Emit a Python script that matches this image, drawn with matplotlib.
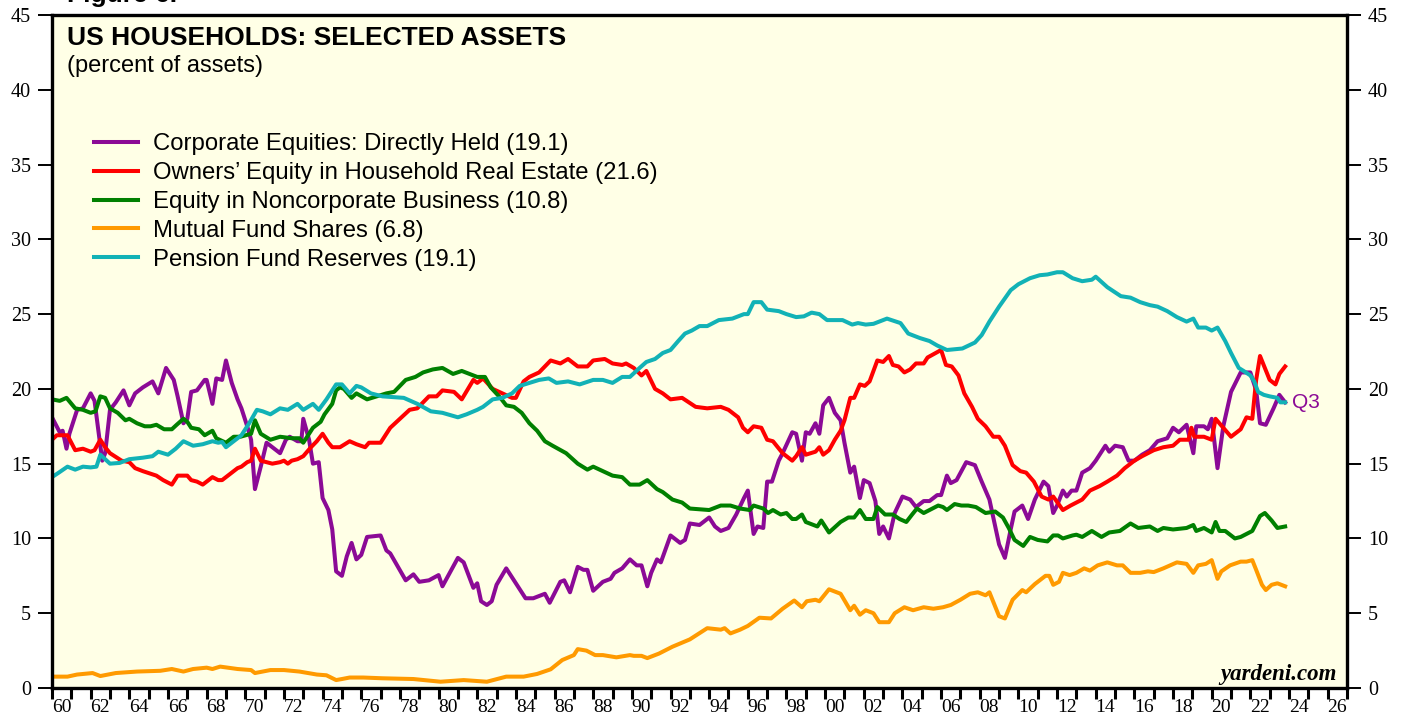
import numpy as np
import matplotlib
matplotlib.use("Agg")
import matplotlib.pyplot as plt


#####################
### Data (percent of household assets)
#####################
title = "US HOUSEHOLDS: SELECTED ASSETS"
subtitle = "(percent of assets)"

names = ["Corporate Equities: Directly Held (19.1)",
         "Owners\u2019 Equity in Household Real Estate (21.6)",
         "Equity in Noncorporate Business (10.8)",
         "Mutual Fund Shares (6.8)",
         "Pension Fund Reserves (19.1)"]

x_equities = [1960.0, 1960.4, 1960.55, 1960.75, 1960.9, 1961.3, 1961.6, 1962.0, 1962.2, 1962.6,
              1962.75, 1963.0, 1963.3, 1963.7, 1964.0, 1964.3, 1964.7, 1965.2, 1965.5, 1965.9,
              1966.3, 1966.5, 1966.8, 1967.0, 1967.2, 1967.5, 1967.9, 1968.0, 1968.3, 1968.5,
              1968.8, 1969.0, 1969.3, 1969.6, 1969.8, 1970.1, 1970.3, 1970.5, 1970.8, 1971.1,
              1971.4, 1971.8, 1972.1, 1972.3, 1972.7, 1972.9, 1973.0, 1973.3, 1973.5, 1973.8,
              1974.0, 1974.3, 1974.5, 1974.7, 1975.0, 1975.25, 1975.5, 1975.75, 1976.0, 1976.3,
              1977.0, 1977.3, 1977.5, 1978.3, 1978.7, 1979.0, 1979.5, 1980.0, 1980.2, 1981.0,
              1981.3, 1981.8, 1982.0, 1982.2, 1982.5, 1982.75, 1983.0, 1983.5, 1983.9, 1984.5,
              1984.9, 1985.2, 1985.5, 1985.75, 1986.3, 1986.5, 1986.8, 1987.2, 1987.5, 1987.7,
              1988.0, 1988.5, 1988.9, 1989.1, 1989.5, 1989.9, 1990.25, 1990.5, 1990.8, 1991.0,
              1991.3, 1991.5, 1992.0, 1992.5, 1992.75, 1993.0, 1993.5, 1994.0, 1994.3, 1994.6,
              1995.0, 1995.4, 1995.8, 1996.0, 1996.3, 1996.5, 1996.8, 1997.0, 1997.25, 1997.6,
              1997.8, 1998.3, 1998.5, 1998.8, 1999.0, 1999.2, 1999.5, 1999.7, 1999.9, 2000.2,
              2000.5, 2000.8, 2001.0, 2001.3, 2001.5, 2001.8, 2002.0, 2002.3, 2002.6, 2002.8,
              2003.0, 2003.3, 2003.6, 2004.0, 2004.4, 2004.7, 2005.1, 2005.4, 2005.8, 2006.0,
              2006.3, 2006.5, 2006.8, 2007.3, 2007.75, 2008.1, 2008.5, 2009.0, 2009.3, 2009.6,
              2009.8, 2010.2, 2010.5, 2010.85, 2011.3, 2011.55, 2011.8, 2012.0, 2012.3, 2012.5,
              2012.75, 2013.0, 2013.3, 2013.7, 2014.0, 2014.5, 2014.7, 2015.0, 2015.4, 2015.7,
              2016.0, 2016.4, 2016.8, 2017.2, 2017.7, 2018.0, 2018.3, 2018.7, 2019.05, 2019.2,
              2019.6, 2019.8, 2020.0, 2020.3, 2020.6, 2021.0, 2021.5, 2022.0, 2022.3, 2022.5,
              2022.8, 2023.2, 2023.5, 2023.8]
y_equities = [18.1, 17.1, 17.2, 16.0, 17.0, 18.6, 18.7, 19.7, 19.2, 15.2,
              15.7, 18.6, 19.1, 19.9, 18.9, 19.7, 20.1, 20.5, 19.7, 21.4,
              20.6, 19.5, 17.7, 18.0, 19.8, 19.9, 20.6, 20.6, 19.0, 20.7,
              20.6, 21.9, 20.4, 19.3, 18.7, 17.5, 16.6, 13.3, 14.8, 16.4,
              16.1, 15.7, 16.6, 16.8, 16.5, 16.5, 18.0, 16.6, 15.0, 15.1,
              12.7, 11.9, 10.6, 7.8, 7.5, 8.8, 9.7, 8.6, 8.9, 10.1,
              10.2, 9.2, 9.0, 7.2, 7.6, 7.1, 7.2, 7.55, 6.8, 8.7,
              8.4, 6.7, 7.0, 5.8, 5.55, 5.8, 6.9, 8.0, 7.2, 6.0,
              6.0, 6.15, 6.3, 5.7, 7.1, 7.2, 6.4, 8.1, 7.9, 7.9,
              6.5, 7.1, 7.3, 7.7, 8.0, 8.6, 8.2, 8.2, 6.8, 7.7,
              8.6, 8.4, 10.2, 9.7, 9.9, 11.0, 10.9, 11.4, 10.8, 10.5,
              10.7, 11.6, 12.7, 13.2, 10.3, 10.8, 10.7, 13.8, 13.8, 15.2,
              15.7, 17.1, 17.0, 15.2, 17.1, 17.0, 17.7, 17.0, 18.9, 19.4,
              18.4, 17.9, 16.4, 14.4, 14.8, 12.7, 13.9, 13.7, 12.5, 10.3,
              10.8, 10.0, 11.7, 12.8, 12.6, 12.1, 12.5, 12.5, 12.9, 12.9,
              14.2, 13.7, 13.9, 15.1, 14.9, 13.8, 12.6, 9.6, 8.7, 10.6,
              11.8, 12.2, 11.3, 12.6, 13.8, 13.5, 11.7, 12.2, 13.2, 12.8,
              13.2, 13.2, 14.4, 14.7, 15.2, 16.2, 15.8, 16.2, 16.1, 15.2,
              15.2, 15.6, 15.9, 16.5, 16.7, 17.4, 17.1, 17.6, 15.7, 17.5,
              17.5, 17.3, 18.0, 14.7, 17.5, 19.8, 21.1, 21.1, 19.9, 17.7,
              17.6, 18.7, 19.6, 19.1]

x_realestate = [1960.0, 1960.25, 1960.8, 1961.2, 1961.6, 1962.0, 1962.2, 1962.5, 1962.75, 1963.0,
                1963.6, 1964.0, 1964.3, 1964.7, 1965.4, 1965.75, 1966.2, 1966.5, 1967.0, 1967.2,
                1967.5, 1967.8, 1968.0, 1968.3, 1968.6, 1968.8, 1969.3, 1969.6, 1969.8, 1970.1,
                1970.3, 1970.5, 1970.8, 1971.4, 1971.8, 1972.0, 1972.2, 1972.4, 1972.7, 1973.0,
                1973.4, 1973.7, 1974.0, 1974.3, 1974.5, 1974.9, 1975.4, 1975.75, 1976.2, 1976.4,
                1977.0, 1977.5, 1978.0, 1978.5, 1978.9, 1979.5, 1979.9, 1980.2, 1980.8, 1981.2,
                1981.8, 1982.0, 1982.3, 1982.8, 1983.3, 1983.8, 1984.0, 1984.4, 1984.7, 1985.2,
                1985.8, 1986.3, 1986.7, 1987.2, 1987.7, 1988.0, 1988.6, 1989.0, 1989.5, 1989.7,
                1990.1, 1990.5, 1990.75, 1991.2, 1991.6, 1992.0, 1992.6, 1993.3, 1993.9, 1994.6,
                1995.0, 1995.5, 1995.75, 1996.0, 1996.3, 1996.7, 1997.0, 1997.3, 1997.8, 1998.3,
                1998.5, 1998.8, 1999.0, 1999.5, 1999.7, 1999.9, 2000.2, 2000.5, 2000.8, 2001.0,
                2001.3, 2001.5, 2001.8, 2002.05, 2002.3, 2002.7, 2003.0, 2003.3, 2003.5, 2003.8,
                2004.1, 2004.4, 2004.7, 2005.1, 2005.3, 2006.0, 2006.25, 2006.55, 2006.9, 2007.2,
                2007.6, 2007.9, 2008.3, 2008.7, 2009.0, 2009.3, 2009.7, 2010.1, 2010.4, 2010.8,
                2011.2, 2011.55, 2011.8, 2012.3, 2012.7, 2013.0, 2013.3, 2013.7, 2014.2, 2014.6,
                2015.1, 2015.5, 2016.0, 2016.4, 2017.0, 2017.5, 2018.0, 2018.35, 2018.8, 2018.95,
                2019.1, 2019.6, 2020.0, 2020.2, 2020.6, 2021.0, 2021.5, 2021.8, 2022.1, 2022.3,
                2022.5, 2022.75, 2023.0, 2023.3, 2023.5, 2023.8]
y_realestate = [16.6, 16.9, 16.9, 15.9, 16.0, 15.8, 15.9, 16.6, 16.1, 15.7,
                15.2, 15.1, 14.7, 14.5, 14.2, 13.9, 13.6, 14.2, 14.2, 13.9,
                13.8, 13.6, 13.8, 14.1, 13.9, 13.9, 14.4, 14.7, 14.8, 15.1,
                15.2, 16.0, 15.2, 15.0, 15.1, 15.2, 15.0, 15.2, 15.3, 15.5,
                16.1, 16.5, 17.0, 16.4, 16.1, 16.1, 16.5, 16.3, 16.1, 16.4,
                16.4, 17.4, 18.0, 18.6, 18.7, 19.5, 19.5, 19.9, 19.8, 19.3,
                20.6, 20.4, 20.7, 20.0, 19.7, 19.4, 19.4, 20.5, 20.8, 21.1,
                21.9, 21.7, 22.0, 21.5, 21.5, 21.9, 22.0, 21.7, 21.6, 21.7,
                21.4, 20.9, 21.2, 20.0, 19.7, 19.3, 19.4, 18.8, 18.7, 18.8,
                18.6, 18.1, 17.4, 17.1, 17.5, 17.4, 16.6, 16.5, 15.7, 15.2,
                15.5, 16.1, 15.6, 15.8, 16.1, 15.6, 15.9, 16.6, 17.2, 17.9,
                19.4, 19.4, 20.3, 20.2, 20.5, 21.9, 21.8, 22.2, 21.6, 21.5,
                21.1, 21.3, 21.7, 21.7, 22.1, 22.6, 21.6, 21.5, 20.9, 19.7,
                18.8, 18.0, 17.5, 16.8, 16.8, 16.2, 14.9, 14.5, 14.4, 13.8,
                12.8, 12.6, 12.8, 11.9, 12.2, 12.4, 12.6, 13.2, 13.5, 13.8,
                14.2, 14.7, 15.2, 15.5, 15.9, 16.1, 16.2, 16.6, 16.6, 17.4,
                16.8, 16.8, 16.6, 18.0, 17.4, 16.8, 17.3, 18.1, 18.0, 20.6,
                22.2, 21.4, 20.6, 20.3, 21.0, 21.5]

x_noncorp = [1960.0, 1960.4, 1960.75, 1961.2, 1961.6, 1962.0, 1962.25, 1962.5, 1962.75, 1963.0,
             1963.4, 1963.8, 1964.0, 1964.4, 1964.8, 1965.1, 1965.4, 1965.8, 1966.2, 1966.45,
             1966.8, 1967.0, 1967.2, 1967.6, 1967.9, 1968.3, 1968.5, 1969.0, 1969.4, 1969.75,
             1970.3, 1970.5, 1970.8, 1971.3, 1971.8, 1972.4, 1972.8, 1973.0, 1973.5, 1973.9,
             1974.1, 1974.5, 1974.7, 1974.9, 1975.1, 1975.5, 1975.75, 1976.3, 1976.8, 1977.3,
             1977.7, 1978.3, 1978.8, 1979.2, 1979.7, 1980.2, 1980.75, 1981.2, 1981.6, 1982.0,
             1982.4, 1982.7, 1983.2, 1983.5, 1983.9, 1984.3, 1984.7, 1985.1, 1985.5, 1985.9,
             1986.6, 1987.2, 1987.7, 1988.0, 1988.5, 1989.0, 1989.5, 1989.9, 1990.4, 1990.8,
             1991.3, 1991.6, 1992.1, 1992.6, 1993.0, 1994.0, 1994.6, 1995.1, 1995.6, 1996.1,
             1996.3, 1996.8, 1997.05, 1997.3, 1997.7, 1998.0, 1998.3, 1998.5, 1998.8, 1999.0,
             1999.6, 1999.8, 2000.2, 2000.8, 2001.2, 2001.5, 2001.8, 2002.1, 2002.5, 2002.7,
             2003.1, 2003.5, 2003.85, 2004.2, 2004.5, 2004.75, 2005.1, 2005.4, 2005.85, 2006.1,
             2006.3, 2006.7, 2007.05, 2007.4, 2007.8, 2008.3, 2008.8, 2009.2, 2009.5, 2009.8,
             2010.25, 2010.6, 2011.0, 2011.5, 2011.8, 2012.05, 2012.3, 2012.8, 2013.0, 2013.3,
             2013.8, 2014.3, 2014.7, 2015.25, 2015.8, 2016.2, 2016.8, 2017.2, 2017.5, 2018.0,
             2018.7, 2019.05, 2019.2, 2019.6, 2020.0, 2020.2, 2020.4, 2020.7, 2021.2, 2021.5,
             2021.8, 2022.1, 2022.5, 2022.75, 2023.1, 2023.4, 2023.8]
y_noncorp = [19.3, 19.2, 19.4, 18.7, 18.6, 18.4, 18.5, 19.5, 19.4, 18.7,
             18.4, 17.9, 18.0, 17.7, 17.5, 17.5, 17.6, 17.3, 17.3, 17.6,
             18.0, 17.8, 17.4, 17.3, 16.9, 17.2, 16.7, 16.4, 16.8, 16.8,
             17.0, 17.9, 17.0, 16.6, 16.8, 16.7, 16.7, 16.4, 17.4, 17.8,
             18.3, 19.0, 19.9, 20.1, 20.0, 19.4, 19.7, 19.3, 19.5, 19.7,
             19.8, 20.6, 20.8, 21.1, 21.3, 21.4, 21.0, 21.2, 21.0, 20.8,
             20.8, 20.1, 19.4, 18.9, 18.8, 18.4, 17.7, 17.2, 16.5, 16.2,
             15.7, 15.0, 14.6, 14.8, 14.5, 14.2, 14.1, 13.6, 13.6, 13.9,
             13.3, 13.1, 12.6, 12.4, 12.0, 11.9, 12.2, 12.2, 12.0, 11.9,
             12.2, 12.0, 11.7, 11.9, 11.6, 11.7, 11.3, 11.3, 11.6, 11.1,
             10.8, 11.2, 10.4, 11.1, 11.4, 11.4, 11.9, 11.3, 11.3, 12.1,
             11.6, 11.6, 11.3, 11.1, 11.6, 12.0, 11.7, 11.9, 12.2, 12.1,
             11.9, 12.3, 12.2, 12.2, 12.1, 11.7, 11.8, 11.4, 10.7, 9.9,
             9.5, 10.1, 9.9, 9.8, 10.2, 10.2, 10.0, 10.2, 10.25, 10.1,
             10.5, 10.1, 10.4, 10.5, 11.0, 10.7, 10.8, 10.5, 10.7, 10.6,
             10.7, 10.9, 10.5, 10.7, 10.4, 11.1, 10.5, 10.5, 10.0, 10.1,
             10.3, 10.5, 11.5, 11.7, 11.2, 10.7, 10.8]

x_mutual = [1960.0, 1960.8, 1961.3, 1962.1, 1962.5, 1963.3, 1964.4, 1965.6, 1966.2, 1966.8,
            1967.3, 1968.0, 1968.3, 1968.7, 1969.6, 1970.3, 1970.5, 1971.3, 1972.0, 1972.8,
            1973.7, 1974.2, 1974.7, 1975.0, 1975.4, 1976.1, 1977.1, 1978.7, 1980.1, 1981.3,
            1982.5, 1983.5, 1984.4, 1985.1, 1985.8, 1986.4, 1987.0, 1987.2, 1987.65, 1988.1,
            1988.5, 1989.2, 1989.9, 1990.1, 1990.5, 1990.8, 1991.4, 1992.1, 1993.0, 1993.9,
            1994.6, 1994.8, 1995.1, 1995.6, 1996.0, 1996.6, 1997.2, 1997.8, 1998.4, 1998.8,
            1999.05, 1999.5, 1999.7, 2000.2, 2000.8, 2001.3, 2001.5, 2001.8, 2002.1, 2002.5,
            2002.8, 2003.3, 2003.6, 2004.1, 2004.55, 2005.1, 2005.6, 2006.1, 2006.5, 2007.0,
            2007.5, 2007.9, 2008.3, 2008.5, 2009.0, 2009.3, 2009.7, 2010.2, 2010.4, 2010.85,
            2011.4, 2011.6, 2011.8, 2012.1, 2012.3, 2012.65, 2013.0, 2013.4, 2013.7, 2014.1,
            2014.6, 2015.1, 2015.4, 2015.8, 2016.3, 2016.7, 2017.0, 2017.5, 2018.2, 2018.7,
            2019.05, 2019.3, 2019.7, 2020.0, 2020.3, 2020.5, 2020.95, 2021.5, 2021.8, 2022.1,
            2022.3, 2022.6, 2022.8, 2023.1, 2023.4, 2023.8]
y_mutual = [0.76, 0.76, 0.9, 1.0, 0.8, 1.0, 1.1, 1.15, 1.27, 1.1,
            1.27, 1.36, 1.27, 1.43, 1.27, 1.2, 1.0, 1.2, 1.2, 1.1,
            0.9, 0.85, 0.53, 0.6, 0.7, 0.7, 0.65, 0.6, 0.42, 0.53,
            0.42, 0.76, 0.76, 0.94, 1.25, 1.87, 2.2, 2.6, 2.5, 2.2,
            2.2, 2.05, 2.2, 2.15, 2.15, 2.0, 2.3, 2.76, 3.25, 4.0,
            3.9, 4.0, 3.65, 3.9, 4.15, 4.7, 4.65, 5.3, 5.85, 5.4,
            5.8, 5.9, 5.8, 6.6, 6.3, 5.2, 5.5, 4.9, 5.2, 5.0,
            4.4, 4.4, 5.0, 5.4, 5.2, 5.4, 5.3, 5.4, 5.55, 5.9,
            6.3, 6.4, 6.2, 6.4, 4.8, 4.65, 5.9, 6.55, 6.4, 6.95,
            7.5, 7.5, 6.9, 7.1, 7.7, 7.55, 7.7, 8.0, 7.85, 8.2,
            8.4, 8.2, 8.2, 7.7, 7.7, 7.8, 7.75, 8.0, 8.4, 8.3,
            7.7, 8.2, 8.3, 8.55, 7.3, 7.8, 8.2, 8.45, 8.45, 8.55,
            7.9, 6.9, 6.55, 6.9, 7.0, 6.8]

x_pension = [1960.0, 1960.35, 1960.8, 1961.2, 1961.6, 1962.0, 1962.3, 1962.5, 1962.75, 1963.0,
             1963.5, 1964.0, 1964.7, 1965.2, 1965.5, 1966.0, 1966.4, 1966.8, 1967.3, 1967.8,
             1968.3, 1968.6, 1968.8, 1969.0, 1969.4, 1969.8, 1970.2, 1970.6, 1970.9, 1971.3,
             1971.8, 1972.2, 1972.7, 1973.0, 1973.5, 1973.8, 1974.2, 1974.7, 1975.0, 1975.4,
             1975.75, 1976.0, 1976.5, 1977.1, 1978.2, 1978.9, 1979.6, 1980.2, 1981.0, 1981.45,
             1982.0, 1982.3, 1982.8, 1983.3, 1983.8, 1984.2, 1984.7, 1985.2, 1985.7, 1986.1,
             1986.7, 1987.3, 1988.0, 1988.5, 1989.0, 1989.5, 1989.9, 1990.4, 1990.75, 1991.2,
             1991.6, 1992.0, 1992.4, 1992.75, 1993.1, 1993.5, 1993.9, 1994.5, 1995.2, 1995.8,
             1996.0, 1996.3, 1996.7, 1997.0, 1997.6, 1998.0, 1998.5, 1998.9, 1999.3, 1999.7,
             2000.1, 2000.6, 2000.9, 2001.4, 2001.7, 2002.1, 2002.5, 2003.2, 2003.9, 2004.3,
             2004.9, 2005.4, 2005.8, 2006.3, 2007.1, 2007.75, 2008.1, 2008.5, 2009.0, 2009.6,
             2010.0, 2010.6, 2011.1, 2011.5, 2012.0, 2012.3, 2012.8, 2013.3, 2013.8, 2014.0,
             2014.6, 2015.3, 2015.8, 2016.3, 2016.8, 2017.2, 2017.7, 2018.2, 2018.7, 2019.05,
             2019.3, 2019.7, 2020.0, 2020.3, 2020.7, 2021.0, 2021.4, 2021.65, 2022.0, 2022.2,
             2022.4, 2022.7, 2023.0, 2023.4, 2023.55, 2023.8]
y_pension = [14.1, 14.4, 14.8, 14.6, 14.8, 14.75, 14.8, 15.6, 15.3, 15.0,
             15.05, 15.3, 15.4, 15.5, 15.8, 15.6, 16.0, 16.5, 16.2, 16.3,
             16.5, 16.4, 16.45, 16.1, 16.5, 16.9, 17.7, 18.6, 18.5, 18.3,
             18.7, 18.6, 19.0, 18.6, 19.0, 18.6, 19.3, 20.3, 20.3, 19.7,
             20.2, 20.1, 19.7, 19.5, 19.4, 19.0, 18.5, 18.4, 18.1, 18.3,
             18.6, 18.8, 19.3, 19.4, 19.7, 20.2, 20.4, 20.6, 20.7, 20.4,
             20.5, 20.3, 20.6, 20.6, 20.4, 20.8, 20.8, 21.4, 21.8, 22.0,
             22.4, 22.6, 23.2, 23.7, 23.9, 24.2, 24.2, 24.6, 24.7, 25.0,
             25.0, 25.8, 25.8, 25.3, 25.2, 25.0, 24.8, 24.85, 25.1, 25.0,
             24.6, 24.6, 24.6, 24.3, 24.4, 24.3, 24.35, 24.7, 24.4, 23.7,
             23.4, 23.2, 22.9, 22.6, 22.7, 23.1, 23.6, 24.5, 25.5, 26.6,
             27.0, 27.4, 27.6, 27.65, 27.8, 27.8, 27.4, 27.2, 27.3, 27.5,
             26.8, 26.2, 26.1, 25.8, 25.6, 25.5, 25.2, 24.8, 24.5, 24.7,
             24.1, 24.1, 23.9, 24.1, 23.2, 22.4, 21.4, 21.2, 20.9, 20.5,
             19.8, 19.6, 19.5, 19.4, 19.1, 19.1]

series_x = [x_equities, x_realestate, x_noncorp, x_mutual, x_pension]
series_y = [y_equities, y_realestate, y_noncorp, y_mutual, y_pension]
colors = ["#8B0A96", "#FF0000", "#008000", "#FF9A00", "#12B2B6"]

year_start, year_end = 1960, 2027
ytick_values = list(range(0, 46, 5))


#####################
### Plot
#####################
fig = plt.figure(figsize=(14.07, 7.17), dpi=100)
W, H = 1407.0, 717.0
ax = fig.add_axes([52 / W, 29 / H, 1295 / W, 673 / H])
ax.set_facecolor("#FFFFE6")

for xs, ys, col, name in zip(series_x, series_y, colors, names):
    ax.plot(xs, ys, color=col, lw=2.9, label=name, solid_joinstyle="round")

ax.set_xlim(year_start, year_end)
ax.set_ylim(0, 45)

# y axis, labels on both sides
ax.set_yticks(ytick_values)
ax.set_yticklabels([str(v) for v in ytick_values])
ax.tick_params(axis="y", which="major", direction="out", length=10, width=1.4,
               left=True, right=True, labelleft=True, labelright=True, pad=5,
               labelsize=14.5)

# x axis: tick every year, label every 2nd year centred in the year
ax.set_xticks(np.arange(year_start, year_end + 1))
ax.set_xticklabels([])
label_years = np.arange(year_start, year_end, 2)
ax.set_xticks(label_years + 0.5, minor=True)
ax.set_xticklabels(["%02d" % (y % 100) for y in label_years], minor=True)
ax.tick_params(axis="x", which="major", direction="out", length=8, width=2.2)
ax.tick_params(axis="x", which="minor", length=0, pad=8, labelsize=14)

for lab in ax.get_xticklabels(minor=True) + ax.yaxis.get_majorticklabels():
    lab.set_fontfamily("Liberation Serif")
for t in ax.yaxis.get_major_ticks():
    t.label2.set_fontfamily("Liberation Serif")

for sp in ax.spines.values():
    sp.set_linewidth(2.4)
    sp.set_color("black")

# legend
leg = ax.legend(loc="upper left", bbox_to_anchor=(42 / 1295, 0.8246), frameon=False,
                prop={"family": "Liberation Sans", "size": 17.2},
                handlelength=1.85, handletextpad=0.6, labelspacing=0.29,
                borderpad=0, borderaxespad=0)

# titles
fig.text(67 / W, 1 - 2 / H, "Figure 6.", fontsize=19, fontweight="bold",
         family="Liberation Sans", va="baseline")
fig.text(67 / W, 1 - 45 / H, title, fontsize=19, fontweight="bold",
         family="Liberation Sans", va="baseline")
fig.text(67 / W, 1 - 72 / H, subtitle, fontsize=17, family="Liberation Sans",
         va="baseline")

# end label and source
ax.text(x_equities[-1] + 0.35, y_equities[-1], "Q3", color=colors[0], fontsize=15,
        family="Liberation Sans", va="center", ha="left")
ax.text(0.992, 0.012, "yardeni.com", transform=ax.transAxes, ha="right", va="baseline",
        family="Liberation Serif", fontweight="bold", fontstyle="italic", fontsize=16.5)

plt.savefig("out.png", dpi=100)
